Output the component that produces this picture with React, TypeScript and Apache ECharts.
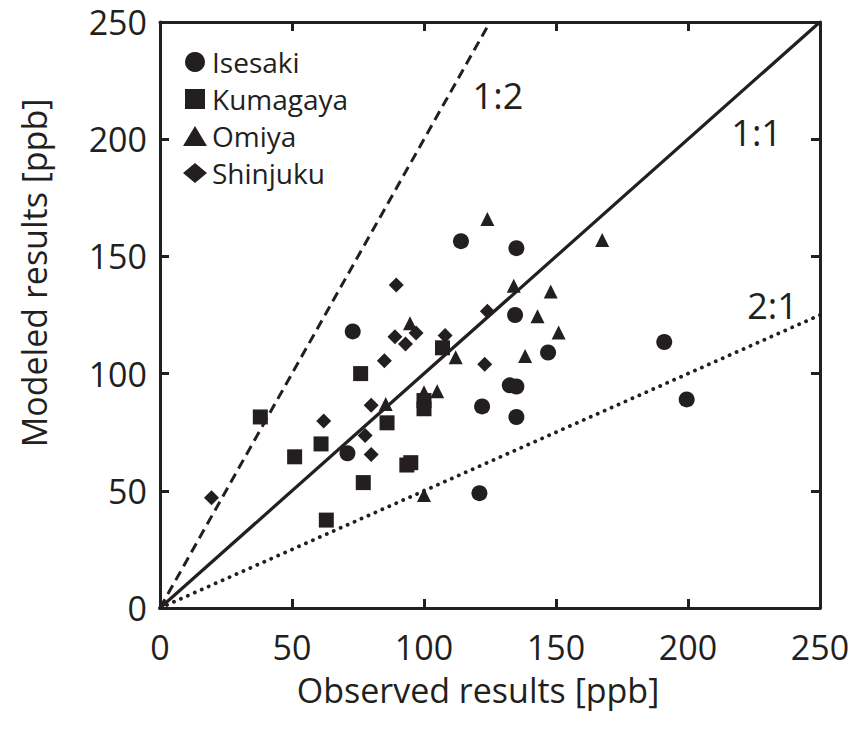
import React, { useEffect, useRef } from "react";
import * as echarts from "echarts";

const INK = "#231f20";
const FONT = "'Open Sans', 'Noto Sans', sans-serif";

const axisTicks = [0, 50, 100, 150, 200, 250];

const isesakiObs = [114, 135, 73, 134.5, 147, 191, 199.5, 132.5, 135, 122, 135, 71, 121];
const isesakiMod = [156.5, 153.5, 118, 125, 109, 113.5, 89, 95, 94.5, 86, 81.5, 66, 49];

const kumagayaObs = [38, 76, 107, 100, 100, 86, 61, 51, 93.5, 95, 77, 63];
const kumagayaMod = [81.5, 100, 111, 88.5, 85, 79, 70, 64.5, 61, 62, 53.5, 37.5];

const omiyaObs = [124, 167.5, 134, 148, 143, 151, 138.3, 112, 105, 100, 94.7, 85.5, 100];
const omiyaMod = [166, 157, 137.5, 135, 124.5, 117.5, 107.5, 107, 92.5, 92, 121.5, 87, 48.2];

const shinjukuObs = [89.5, 124, 89, 97, 93, 108, 85, 123, 80, 62, 77.7, 80, 19.5];
const shinjukuMod = [137.8, 126.6, 115.7, 117.3, 112.6, 116.3, 105.5, 104, 86.5, 79.8, 73.6, 65.5, 47];

const ratioNames = ["1:2", "1:1", "2:1"];
const ratioLineEnds = [
  [125, 250],
  [250, 250],
  [250, 125],
];
const ratioLabelPos = [
  [128, 218.5],
  [226, 203],
  [232, 129],
];

const stationNames = ["Isesaki", "Kumagaya", "Omiya", "Shinjuku"];
const stationSymbols = ["circle", "rect", "triangle", "diamond"];
const legendIcons = ["circle", "path://M0,0L10,0L10,10L0,10Z", "triangle", "diamond"];
const stationSizes = [16, 15, 14, 15];
const stationObs = [isesakiObs, kumagayaObs, omiyaObs, shinjukuObs];
const stationMod = [isesakiMod, kumagayaMod, omiyaMod, shinjukuMod];

function zip(a: number[], b: number[]) {
  return a.map((v, i) => [v, b[i]]);
}

export default function App() {
  const ref = useRef<HTMLDivElement>(null);

  useEffect(() => {
    if (!ref.current) return;
    const chart = echarts.init(ref.current, undefined, { renderer: "svg" });

    const baseAxis = {
      type: "value" as const,
      min: 0,
      max: 250,
      interval: 50,
      splitLine: { show: false },
      axisLine: { show: true, onZero: false, lineStyle: { color: INK, width: 3 } },
      axisTick: { show: true, inside: true, length: 9, lineStyle: { color: INK, width: 3 } },
    };

    const scatterSeries = stationNames.map((name, i) => ({
      name,
      type: "scatter",
      xAxisIndex: 0,
      yAxisIndex: 0,
      symbol: stationSymbols[i],
      symbolSize: stationSizes[i],
      itemStyle: { color: INK, opacity: 1 },
      data: zip(stationObs[i], stationMod[i]),
      z: 5,
    }));

    const lineTypes: any[] = [
      { type: [10, 6], width: 3, cap: "butt" },
      { type: "solid", width: 3.2 },
      { type: [0.1, 7.5], width: 3.8, cap: "round" },
    ];

    const lineSeries = ratioNames.map((name, i) => ({
      name: "line " + name,
      type: "line",
      xAxisIndex: 0,
      yAxisIndex: 0,
      showSymbol: false,
      symbol: "none",
      silent: true,
      lineStyle: { color: INK, ...lineTypes[i] },
      data: [[0, 0], ratioLineEnds[i]],
      z: 3,
    }));

    const labelSeries = {
      name: "ratio labels",
      type: "scatter",
      xAxisIndex: 0,
      yAxisIndex: 0,
      symbolSize: 0.1,
      silent: true,
      itemStyle: { color: INK },
      label: {
        show: true,
        position: "inside",
        formatter: "{b}",
        color: INK,
        opacity: 1,
        textBorderWidth: 0,
        fontSize: 36,
        fontFamily: FONT,
      },
      data: ratioNames.map((n, i) => ({ name: n, value: ratioLabelPos[i] })),
      z: 4,
    };

    chart.setOption({
      animation: false,
      backgroundColor: "#ffffff",
      grid: {
        left: 160,
        right: 39,
        top: 22,
        bottom: 130,
        containLabel: false,
        outerBoundsMode: "none",
      },
      legend: {
        show: true,
        data: stationNames.map((n, i) => ({ name: n, icon: legendIcons[i] })),
        orient: "vertical",
        left: 178,
        top: 42,
        itemWidth: 24,
        itemHeight: 20,
        itemGap: 7,
        selectedMode: false,
        textStyle: {
          color: INK,
          fontSize: 28,
          lineHeight: 30,
          fontFamily: FONT,
          padding: [0, 0, 0, 0],
        },
      },
      xAxis: [
        {
          ...baseAxis,
          position: "bottom",
          axisLabel: {
            show: true,
            color: INK,
            fontSize: 34,
            fontFamily: FONT,
            margin: 22,
            formatter: (v: number) => (axisTicks.includes(v) ? String(v) : ""),
          },
        },
        { ...baseAxis, position: "top", axisLabel: { show: false } },
      ],
      yAxis: [
        {
          ...baseAxis,
          position: "left",
          axisLabel: {
            show: true,
            color: INK,
            fontSize: 34,
            fontFamily: FONT,
            margin: 13,
          },
        },
        { ...baseAxis, position: "right", axisLabel: { show: false } },
      ],
      graphic: [
        {
          type: "text",
          x: 478,
          y: 690,
          style: {
            text: "Observed results [ppb]",
            font: `34px ${FONT}`,
            fill: INK,
            textAlign: "center",
            textVerticalAlign: "middle",
            align: "center",
            verticalAlign: "middle",
          },
        },
        {
          type: "text",
          x: 34,
          y: 273,
          rotation: Math.PI / 2,
          style: {
            text: "Modeled results [ppb]",
            font: `34px ${FONT}`,
            fill: INK,
            textAlign: "center",
            textVerticalAlign: "middle",
            align: "center",
            verticalAlign: "middle",
          },
        },
      ],
      series: [...lineSeries, ...scatterSeries, labelSeries],
    });

    return () => chart.dispose();
  }, []);

  return <div ref={ref} style={{ width: 859, height: 738, margin: -8 }} />;
}
